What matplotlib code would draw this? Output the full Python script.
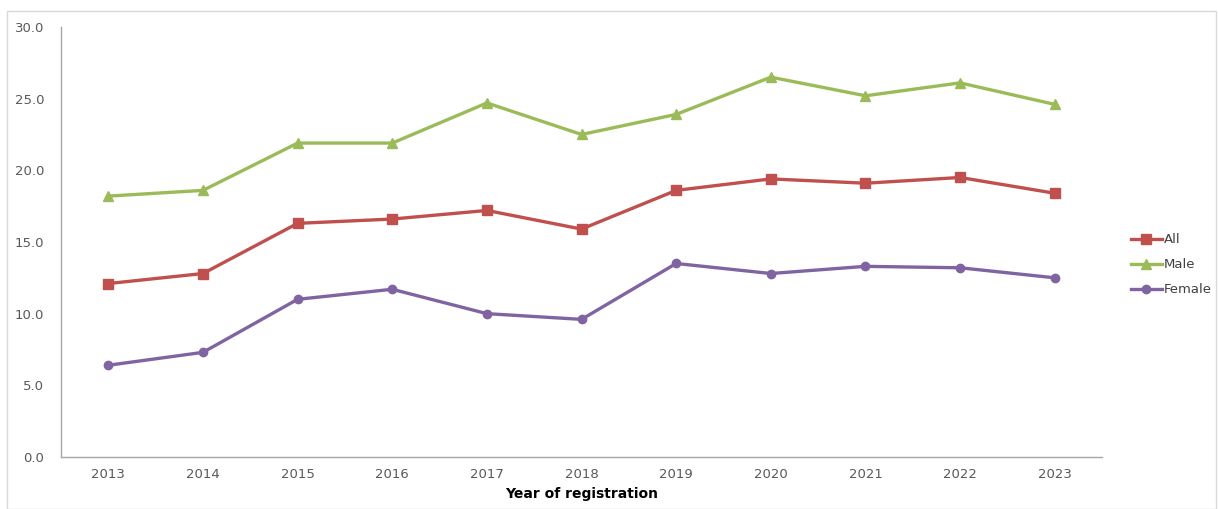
import numpy as np
import matplotlib.pyplot as plt
from matplotlib.patches import Rectangle

# Donnees
annees = ['2013', '2014', '2015', '2016', '2017', '2018',
          '2019', '2020', '2021', '2022', '2023']
tous   = [12.1, 12.8, 16.3, 16.6, 17.2, 15.9, 18.6, 19.4, 19.1, 19.5, 18.4]
hommes = [18.2, 18.6, 21.9, 21.9, 24.7, 22.5, 23.9, 26.5, 25.2, 26.1, 24.6]
femmes = [6.4, 7.3, 11.0, 11.7, 10.0, 9.6, 13.5, 12.8, 13.3, 13.2, 12.5]

fig = plt.figure(figsize=(12.18, 5.09), dpi=100)
ax = fig.add_axes([0.0501, 0.1022, 0.8547, 0.8448])

# cadre gris autour de la figure
fig.patches.append(Rectangle((0.006, 0.0), 0.992, 0.978, transform=fig.transFigure,
                             fill=False, edgecolor='#d9d9d9', linewidth=1))

x = np.arange(len(annees))
ax.plot(x, tous, color='#C0504D', lw=2.4, marker='s', ms=7, label='All')
ax.plot(x, hommes, color='#9BBB59', lw=2.4, marker='^', ms=7, label='Male')
ax.plot(x, femmes, color='#8064A2', lw=2.4, marker='o', ms=6, label='Female')

ax.set_xlim(-0.5, len(annees) - 0.5)
ax.set_ylim(0, 30)
ax.set_yticks(np.arange(0, 30.1, 5))
ax.set_yticklabels(['{:.1f}'.format(v) for v in np.arange(0, 30.1, 5)])
ax.set_xticks(x)
ax.set_xticklabels(annees)
ax.tick_params(length=0, labelsize=9.5, labelcolor='#595959', pad=8)
ax.tick_params(axis='y', pad=12)

for s in ['top', 'right']:
    ax.spines[s].set_visible(False)
for s in ['left', 'bottom']:
    ax.spines[s].set_color('#a6a6a6')
    ax.spines[s].set_linewidth(1)

ax.set_xlabel('Year of registration', fontsize=10, fontweight='bold', labelpad=4)

ax.legend(loc='center left', bbox_to_anchor=(1.016, 0.447), frameon=False,
          fontsize=9.5, handlelength=2.4, handletextpad=0.1, labelspacing=0.9,
          labelcolor='#404040')

fig.savefig('out.png', dpi=100)
